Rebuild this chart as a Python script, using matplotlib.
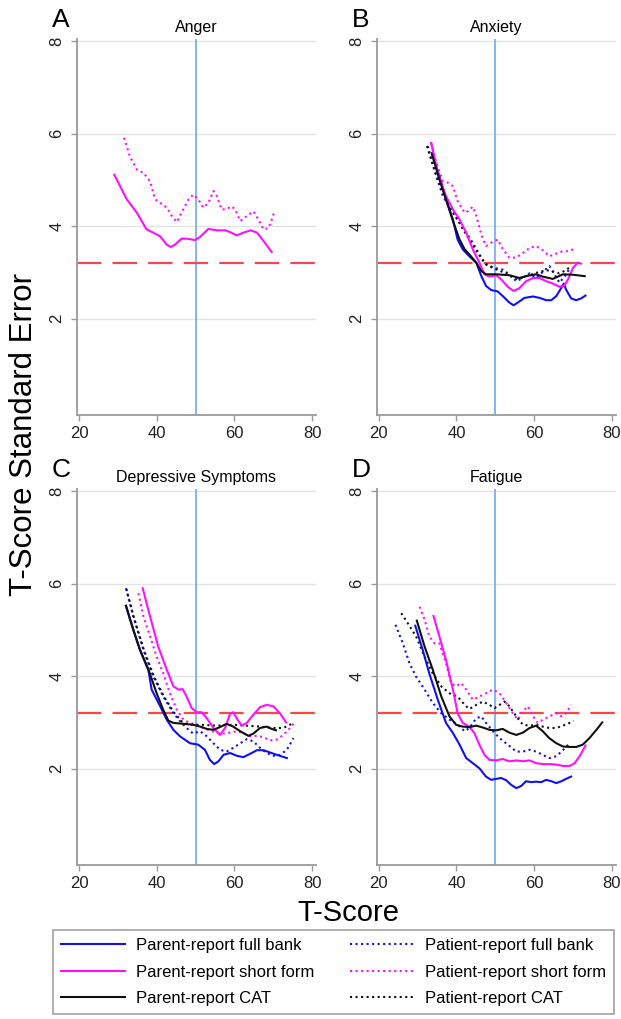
import matplotlib
matplotlib.use("Agg")
import matplotlib.pyplot as plt
from matplotlib.lines import Line2D

plt.rcParams['font.family'] = ['Liberation Sans', 'DejaVu Sans']

# ---- data (T-score, standard error) ----
# Panel A : Anger
A_PSF_X = [29.1, 32.3, 34.9, 37.4, 39.1, 40.9, 42.6, 43.6, 44.7, 46.4, 47.7, 49.9, 51.2, 53.3, 55.5,
           57.6, 58.9, 60.6, 62.3, 64.2, 65.8, 67.5, 69.6]
A_PSF_Y = [5.11, 4.58, 4.29, 3.93, 3.86, 3.78, 3.60, 3.55, 3.60, 3.73, 3.73, 3.70, 3.77, 3.94, 3.91,
           3.91, 3.87, 3.80, 3.86, 3.91, 3.86, 3.68, 3.44]
A_TSF_X = [31.6, 33.1, 34.9, 36.6, 38.3, 39.6, 40.9, 42.6, 43.9, 45.2, 46.4, 48.2, 49.4, 50.7, 52.0,
           53.3, 54.6, 55.5, 56.7, 58.0, 59.3, 60.2, 61.5, 63.2, 64.9, 66.2, 67.5, 68.8, 69.6, 70.2]
A_TSF_Y = [5.91, 5.51, 5.22, 5.15, 4.97, 4.58, 4.50, 4.40, 4.22, 4.09, 4.29, 4.58, 4.68, 4.58, 4.40,
           4.50, 4.76, 4.65, 4.36, 4.37, 4.43, 4.36, 4.11, 4.22, 4.32, 4.14, 3.93, 3.96, 4.14, 4.29]

# Panel B : Anxiety
B_PFB_X = [33.7, 35.6, 37.3, 39.1, 40.3, 41.6, 43.3, 45.1, 46.4, 47.6, 48.9, 50.6, 51.9, 53.6, 54.7,
           55.8, 57.5, 59.7, 61.4, 63.1, 64.4, 65.7, 67.0, 67.6, 68.2, 69.5, 70.8, 72.1, 73.2]
B_PFB_Y = [5.58, 5.08, 4.58, 4.14, 3.71, 3.50, 3.35, 3.21, 2.92, 2.71, 2.62, 2.59, 2.49, 2.35, 2.29,
           2.35, 2.45, 2.48, 2.45, 2.40, 2.40, 2.49, 2.67, 2.76, 2.63, 2.44, 2.40, 2.44, 2.50]
B_PSF_X = [33.5, 35.2, 37.3, 39.1, 40.8, 42.5, 44.2, 45.9, 47.2, 48.5, 50.2, 51.5, 53.2, 54.7, 56.2,
           57.9, 59.7, 61.4, 63.1, 64.8, 66.5, 67.8, 68.7, 70.0, 71.2, 72.1]
B_PSF_Y = [5.80, 5.15, 4.65, 4.36, 4.14, 3.86, 3.50, 3.21, 2.96, 2.91, 2.94, 2.85, 2.69, 2.60, 2.66,
           2.81, 2.88, 2.88, 2.81, 2.76, 2.69, 2.72, 2.85, 3.10, 3.21, 3.19]
B_PCAT_X = [33.7, 35.6, 37.3, 39.1, 40.8, 42.1, 43.3, 45.1, 46.4, 47.6, 50.2, 53.6, 56.2, 57.9, 60.5,
            62.2, 64.8, 67.4, 70.0, 73.0]
B_PCAT_Y = [5.55, 5.01, 4.58, 4.11, 3.71, 3.50, 3.39, 3.21, 3.03, 2.96, 2.96, 2.94, 2.88, 2.92, 2.96,
            2.91, 2.86, 2.96, 2.95, 2.92]
B_TFB_X = [32.6, 34.8, 36.5, 39.1, 40.8, 42.5, 44.2, 45.9, 47.2, 48.5, 50.2, 51.9, 53.6, 55.4, 57.1,
           58.8, 60.5, 62.2, 63.9, 65.2, 66.5, 67.8, 69.1]
B_TFB_Y = [5.73, 5.08, 4.65, 4.29, 4.07, 3.86, 3.64, 3.39, 3.21, 3.14, 3.09, 3.06, 2.96, 2.81, 2.88,
           2.98, 2.88, 3.01, 3.14, 2.96, 2.78, 2.91, 3.08]
B_TSF_X = [33.5, 34.8, 36.5, 37.8, 39.1, 40.3, 42.1, 42.9, 44.2, 45.1, 46.4, 47.6, 48.9, 50.6, 51.9,
           53.6, 55.4, 57.1, 58.8, 60.5, 62.2, 63.9, 65.7, 67.4, 68.7, 70.1]
B_TSF_Y = [5.80, 5.37, 4.97, 4.94, 4.86, 4.54, 4.29, 4.32, 4.42, 4.22, 3.82, 3.57, 3.64, 3.71, 3.51,
           3.32, 3.32, 3.42, 3.53, 3.57, 3.48, 3.35, 3.41, 3.46, 3.46, 3.50]
B_TCAT_X = [32.4, 34.3, 36.5, 39.1, 41.2, 43.3, 45.5, 47.6, 49.8, 51.9, 54.1, 55.8, 57.9, 60.5, 63.1,
            64.8, 66.5, 68.2, 69.5]
B_TCAT_Y = [5.73, 5.22, 4.72, 4.32, 4.00, 3.71, 3.42, 3.17, 3.08, 3.01, 2.91, 2.85, 2.92, 2.99, 3.05,
            3.02, 2.98, 3.05, 3.14]

# Panel C : Depressive Symptoms
C_PFB_X = [32.1, 34.0, 35.7, 37.9, 38.7, 40.9, 42.6, 44.3, 46.0, 48.6, 50.7, 52.4, 53.7, 54.8, 55.9,
           57.2, 58.9, 60.6, 62.3, 64.0, 65.8, 67.5, 69.2, 70.9, 73.5]
C_PFB_Y = [5.52, 5.00, 4.57, 4.12, 3.71, 3.35, 3.06, 2.84, 2.70, 2.55, 2.52, 2.41, 2.19, 2.10, 2.16,
           2.30, 2.34, 2.28, 2.25, 2.32, 2.40, 2.40, 2.35, 2.30, 2.23]
C_PSF_X = [36.4, 38.3, 40.4, 42.6, 44.3, 45.6, 46.7, 47.7, 49.0, 50.3, 51.6, 52.9, 54.6, 56.3, 57.6,
           58.9, 59.7, 60.8, 61.9, 63.2, 64.9, 66.6, 68.3, 70.0, 71.8, 73.3]
C_PSF_Y = [5.90, 5.29, 4.64, 4.14, 3.78, 3.71, 3.72, 3.56, 3.31, 3.22, 3.22, 3.09, 2.88, 2.73, 2.88,
           3.19, 3.22, 3.06, 2.93, 2.99, 3.17, 3.33, 3.38, 3.35, 3.19, 3.00]
C_PCAT_X = [32.1, 34.0, 35.7, 37.9, 40.0, 41.7, 43.0, 44.3, 46.9, 49.4, 51.2, 52.9, 54.6, 56.3, 58.0,
            59.7, 61.5, 63.6, 64.9, 66.6, 68.3, 69.6, 70.7]
C_PCAT_Y = [5.52, 5.00, 4.57, 4.14, 3.63, 3.27, 3.04, 2.99, 2.97, 2.95, 2.91, 2.86, 2.84, 2.90, 2.97,
            2.91, 2.81, 2.71, 2.76, 2.88, 2.91, 2.86, 2.83]
C_TFB_X = [32.1, 34.0, 36.6, 39.1, 41.7, 44.3, 46.4, 48.2, 49.4, 51.2, 52.9, 54.6, 56.3, 58.0, 59.7,
           61.5, 63.2, 64.9, 66.6, 68.3, 70.0, 71.8, 73.5, 75.2]
C_TFB_Y = [5.90, 5.29, 4.57, 4.00, 3.56, 3.20, 2.99, 2.84, 2.76, 2.81, 2.70, 2.55, 2.41, 2.37, 2.45,
           2.55, 2.64, 2.59, 2.45, 2.34, 2.28, 2.30, 2.41, 2.66]
C_TSF_X = [35.3, 36.6, 38.3, 40.0, 41.7, 43.4, 45.2, 46.9, 48.6, 50.3, 52.0, 53.7, 55.5, 57.2, 58.9,
           60.6, 62.3, 64.0, 65.8, 67.5, 69.2, 70.9, 72.6, 73.9, 75.2]
C_TSF_Y = [5.79, 5.29, 4.86, 4.42, 4.06, 3.63, 3.27, 3.06, 2.99, 2.95, 2.88, 2.83, 2.77, 2.76, 2.78,
           2.81, 2.77, 2.70, 2.71, 2.68, 2.61, 2.63, 2.73, 2.84, 2.97]
C_TCAT_X = [32.2, 34.1, 36.7, 39.2, 41.8, 44.4, 46.6, 48.4, 51.2, 55.5, 59.7, 63.2, 66.6, 70.0, 72.6, 75.2]
C_TCAT_Y = [5.88, 5.28, 4.57, 4.01, 3.57, 3.22, 3.01, 2.95, 2.95, 2.93, 2.95, 2.93, 2.91, 2.88, 2.88, 2.99]

# Panel D : Fatigue
D_PFB_X = [29.4, 31.3, 33.0, 35.2, 37.3, 39.1, 40.8, 42.5, 44.2, 45.9, 47.6, 48.9, 50.2, 51.5, 52.8,
           54.1, 55.4, 56.7, 57.9, 59.2, 60.5, 61.8, 63.1, 64.4, 65.7, 67.0, 68.2, 69.5]
D_PFB_Y = [5.09, 4.57, 4.06, 3.49, 2.99, 2.77, 2.52, 2.23, 2.12, 2.01, 1.83, 1.76, 1.78, 1.80, 1.75,
           1.65, 1.58, 1.63, 1.73, 1.71, 1.72, 1.71, 1.76, 1.73, 1.69, 1.73, 1.78, 1.83]
D_PSF_X = [34.1, 35.6, 37.3, 39.1, 40.3, 41.6, 43.3, 44.6, 45.9, 47.2, 48.5, 50.2, 51.9, 53.6, 55.4,
           57.1, 58.8, 60.5, 62.2, 63.9, 65.7, 67.4, 69.1, 70.4, 71.7, 73.2]
D_PSF_Y = [5.30, 4.86, 4.35, 3.71, 3.20, 2.99, 2.91, 2.77, 2.52, 2.30, 2.19, 2.18, 2.21, 2.16, 2.18,
           2.16, 2.18, 2.12, 2.10, 2.10, 2.09, 2.06, 2.06, 2.12, 2.27, 2.50]
D_PCAT_X = [29.8, 31.8, 33.9, 36.1, 38.2, 39.9, 41.6, 43.3, 45.1, 46.8, 48.5, 50.2, 51.9, 53.6, 55.4,
            57.1, 58.8, 60.5, 62.2, 63.9, 65.7, 67.4, 69.1, 70.8, 72.5, 74.2, 76.0, 77.5]
D_PCAT_Y = [5.20, 4.64, 4.14, 3.56, 3.13, 2.95, 2.91, 2.90, 2.93, 2.89, 2.84, 2.83, 2.86, 2.78, 2.73,
            2.78, 2.88, 2.93, 2.81, 2.66, 2.55, 2.48, 2.47, 2.47, 2.52, 2.66, 2.84, 3.00]
D_TFB_X = [24.3, 26.2, 27.9, 29.6, 31.8, 33.9, 36.1, 38.2, 40.3, 42.1, 43.3, 45.1, 46.4, 47.6, 49.4,
           51.1, 53.2, 55.4, 57.1, 58.8, 60.5, 62.2, 63.9, 65.7, 67.4, 69.1]
D_TFB_Y = [5.11, 4.71, 4.28, 3.99, 3.71, 3.42, 3.20, 3.06, 2.95, 2.81, 2.88, 3.09, 3.13, 2.99, 2.81,
           2.66, 2.52, 2.37, 2.37, 2.41, 2.37, 2.30, 2.23, 2.27, 2.40, 2.55]
D_TSF_X = [30.5, 31.8, 33.0, 34.3, 35.6, 37.3, 38.6, 39.9, 41.2, 42.5, 44.2, 45.9, 47.6, 49.4, 51.1,
           52.8, 54.5, 55.8, 57.1, 58.4, 59.7, 60.9, 62.2, 63.9, 65.7, 67.0, 68.2, 69.5]
D_TSF_Y = [5.50, 5.22, 4.86, 4.71, 4.71, 4.28, 3.85, 3.78, 3.85, 3.71, 3.49, 3.56, 3.63, 3.71, 3.63,
           3.42, 3.20, 3.06, 3.24, 3.35, 3.13, 2.99, 3.06, 3.13, 3.20, 3.13, 3.20, 3.38]
D_TCAT_X = [25.8, 27.5, 29.6, 31.8, 33.9, 36.1, 38.2, 40.3, 42.1, 43.3, 45.1, 46.8, 48.5, 49.8, 51.1,
            52.4, 53.6, 55.4, 57.1, 58.8, 60.5, 62.2, 63.9, 65.7, 67.4, 69.1, 70.1]
D_TCAT_Y = [5.36, 5.14, 4.86, 4.42, 4.06, 3.78, 3.63, 3.56, 3.38, 3.29, 3.38, 3.45, 3.38, 3.31, 3.38,
            3.45, 3.35, 3.13, 2.95, 2.93, 2.95, 2.91, 2.88, 2.88, 2.93, 2.99, 3.04]

PANEL_LETTERS = ['A', 'B', 'C', 'D']
PANEL_TITLES = ['Anger', 'Anxiety', 'Depressive Symptoms', 'Fatigue']
REF_SE = 3.2      # red dashed reference
REF_T = 50        # blue vertical reference

LABELS = ['Parent-report full bank', 'Parent-report short form', 'Parent-report CAT',
          'Patient-report full bank', 'Patient-report short form', 'Patient-report CAT']

BLUE = '#1010f0'
MAGENTA = '#ff10ff'
BLACK = '#111111'
COLORS = [BLUE, MAGENTA, BLACK, BLUE, MAGENTA, BLACK]
STYLES = ['-', '-', '-', ':', ':', ':']

# series per panel, in legend order (None = series not shown)
panels = [
    [None, (A_PSF_X, A_PSF_Y), None, None, (A_TSF_X, A_TSF_Y), None],
    [(B_PFB_X, B_PFB_Y), (B_PSF_X, B_PSF_Y), (B_PCAT_X, B_PCAT_Y),
     (B_TFB_X, B_TFB_Y), (B_TSF_X, B_TSF_Y), (B_TCAT_X, B_TCAT_Y)],
    [(C_PFB_X, C_PFB_Y), (C_PSF_X, C_PSF_Y), (C_PCAT_X, C_PCAT_Y),
     (C_TFB_X, C_TFB_Y), (C_TSF_X, C_TSF_Y), (C_TCAT_X, C_TCAT_Y)],
    [(D_PFB_X, D_PFB_Y), (D_PSF_X, D_PSF_Y), (D_PCAT_X, D_PCAT_Y),
     (D_TFB_X, D_TFB_Y), (D_TSF_X, D_TSF_Y), (D_TCAT_X, D_TCAT_Y)],
]

W, H = 621, 1019
fig = plt.figure(figsize=(W / 100, H / 100), dpi=100)

# axes boxes in pixels: left, top(of axis box), bottom
boxes = [(77, 38.7, 415), (376.8, 38.7, 415), (77, 488.7, 865), (376.8, 488.7, 865)]
AX_W = 239
# dotted under solid, roughly like the reference
draw_order = [3, 4, 5, 0, 1, 2]

for i, (left, top, bottom) in enumerate(boxes):
    ax = fig.add_axes([left / W, 1 - bottom / H, AX_W / W, (bottom - top) / H])
    ax.set_xlim(19.5, 81)
    ax.set_ylim(-0.08, 8.05)
    for s in ['top', 'right']:
        ax.spines[s].set_visible(False)
    for s in ['left', 'bottom']:
        ax.spines[s].set_color('#9a9a9a')
        ax.spines[s].set_linewidth(1.3)
    ax.set_yticks([2, 4, 6, 8])
    ax.set_xticks([20, 40, 60, 80])
    ax.tick_params(colors='#9a9a9a', labelcolor='#222222', length=4, width=1, labelsize=12)
    ax.tick_params(axis='y', pad=5)
    ax.tick_params(axis='x', pad=4)
    for lab in ax.get_yticklabels():
        lab.set_rotation(90)
        lab.set_va('center')
    ax.grid(axis='y', color='#e3e3e3', linewidth=1)
    ax.set_axisbelow(True)

    ax.axvline(REF_T, color='#86b4f2', linewidth=1.4, zorder=1)
    ax.axhline(REF_SE, color='#f24a4a', linewidth=1.6, dashes=(11, 5), zorder=1)

    for k in draw_order:
        ser = panels[i][k]
        if ser is None:
            continue
        ax.plot(ser[0], ser[1], color=COLORS[k], linestyle=STYLES[k],
                linewidth=1.5, zorder=3 if STYLES[k] == '-' else 2)

    ax.set_title(PANEL_TITLES[i], fontsize=11.5, pad=5)
    fig.text((left - 25) / W, 1 - (top - 19) / H, PANEL_LETTERS[i], fontsize=19,
             ha='left', va='center')

fig.text(24 / W, 1 - 435 / H, 'T-Score Standard Error', rotation=90, fontsize=22.5,
         ha='center', va='center')
fig.text(348 / W, 1 - 913 / H, 'T-Score', fontsize=21, ha='center', va='center')

handles = [Line2D([], [], color=COLORS[k], linestyle=STYLES[k], linewidth=1.5) for k in range(6)]
leg = fig.legend(handles, LABELS, ncol=2, loc='upper left',
                 bbox_to_anchor=(53 / W, 1 - 930 / H), borderaxespad=0,
                 fontsize=12, frameon=True, fancybox=False, handlelength=3.8,
                 handletextpad=0.7, columnspacing=2.1, labelspacing=0.67, borderpad=0.5)
leg.get_frame().set_edgecolor('#8a8a8a')
leg.get_frame().set_linewidth(1.2)

fig.savefig('out.png', dpi=100)
